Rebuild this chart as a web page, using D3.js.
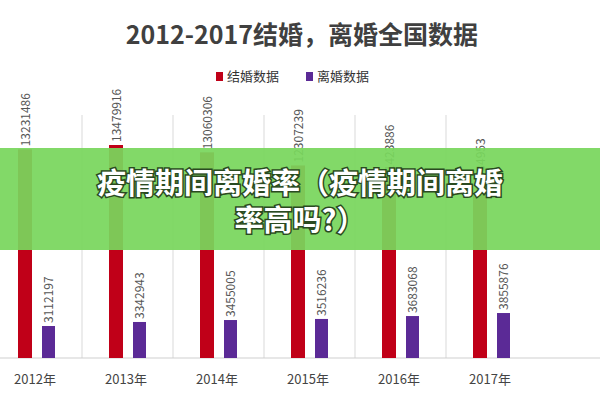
<!DOCTYPE html>
<html>
<head>
<meta charset="utf-8">
<script src="https://d3js.org/d3.v7.min.js"></script>
<style>
  body { margin: 0; background: #fff; }
  text { font-family: "Noto Sans CJK SC", "DejaVu Sans", sans-serif; }
</style>
</head>
<body>
<script>
  // chart values
  var years = ["2012年", "2013年", "2014年", "2015年", "2016年", "2017年"];
  var marriages = [13231486, 13479916, 13060306, 12307239, 11423886, 10634953];
  var divorces = [3112197, 3342943, 3455005, 3516236, 3683068, 3855876];
  var seriesNames = ["结婚数据", "离婚数据"];

  var width = 600, height = 400;
  var svg = d3.select("body").append("svg")
      .attr("width", width).attr("height", height);

  var x = d3.scaleBand().domain(years).range([-9, 537]);
  var y = d3.scaleLinear().domain([1280000, 13480000]).range([358, 145]);

  // title
  svg.append("text").attr("x", 302).attr("y", 44)
     .attr("text-anchor", "middle").attr("font-size", 25).attr("font-weight", "bold")
     .attr("fill", "#404040").text("2012-2017结婚，离婚全国数据");

  // legend
  var colors = ["#c00018", "#5b2a96"];
  var lg = svg.append("g").attr("transform", "translate(216,78)");
  seriesNames.forEach(function(n, i) {
    var g = lg.append("g").attr("transform", "translate(" + (i * 90) + ",0)");
    g.append("rect").attr("x", 0).attr("y", -6).attr("width", 7).attr("height", 9).attr("fill", colors[i]);
    g.append("text").attr("x", 11).attr("y", 3).attr("font-size", 13).attr("fill", "#333").text(n);
  });

  // gridlines
  svg.selectAll("line.grid").data(years.slice(0, 5)).enter().append("line")
     .attr("x1", function(d) { return x(d) + x.bandwidth(); })
     .attr("x2", function(d) { return x(d) + x.bandwidth(); })
     .attr("y1", 115).attr("y2", 358).attr("stroke", "#d9d9d9");
  svg.append("line").attr("x1", 0).attr("x2", 600).attr("y1", 358).attr("y2", 358).attr("stroke", "#cfcfcf");

  // bars
  svg.selectAll("rect.m").data(marriages).enter().append("rect")
     .attr("x", function(d, i) { return x(years[i]) + 27; })
     .attr("y", function(d) { return y(d); })
     .attr("width", 14).attr("height", function(d) { return 358 - y(d); })
     .attr("fill", colors[0]);
  svg.selectAll("rect.d").data(divorces).enter().append("rect")
     .attr("x", function(d, i) { return x(years[i]) + 51; })
     .attr("y", function(d) { return y(d); })
     .attr("width", 13).attr("height", function(d) { return 358 - y(d); })
     .attr("fill", colors[1]);

  // value labels (vertical)
  function vlabel(vals, dx) {
    svg.selectAll(null).data(vals).enter().append("text")
       .attr("transform", function(d, i) {
         return "translate(" + (x(years[i]) + dx) + "," + (y(d) - 3) + ") rotate(-90)";
       })
       .attr("font-size", 12).attr("fill", "#555").text(function(d) { return d; });
  }
  vlabel(marriages, 39);
  vlabel(divorces, 62);

  // year labels
  svg.selectAll("text.yr").data(years).enter().append("text")
     .attr("x", function(d) { return x(d) + 44; }).attr("y", 384)
     .attr("text-anchor", "middle").attr("font-size", 13).attr("fill", "#444")
     .text(function(d) { return d; });

  // green banner overlay
  svg.append("rect").attr("x", 0).attr("y", 148).attr("width", 600).attr("height", 102)
     .attr("fill", "#78d65c").attr("opacity", 0.93);
  var lines = ["疫情期间离婚率（疫情期间离婚", "率高吗?）"];
  lines.forEach(function(t, i) {
    svg.append("text").attr("x", 300).attr("y", 194 + i * 37)
       .attr("text-anchor", "middle").attr("font-size", 29).attr("font-weight", "bold")
       .attr("fill", "#fff").attr("stroke", "#2a4a20").attr("stroke-width", 3)
       .attr("paint-order", "stroke").text(t);
  });
</script>
</body>
</html>
